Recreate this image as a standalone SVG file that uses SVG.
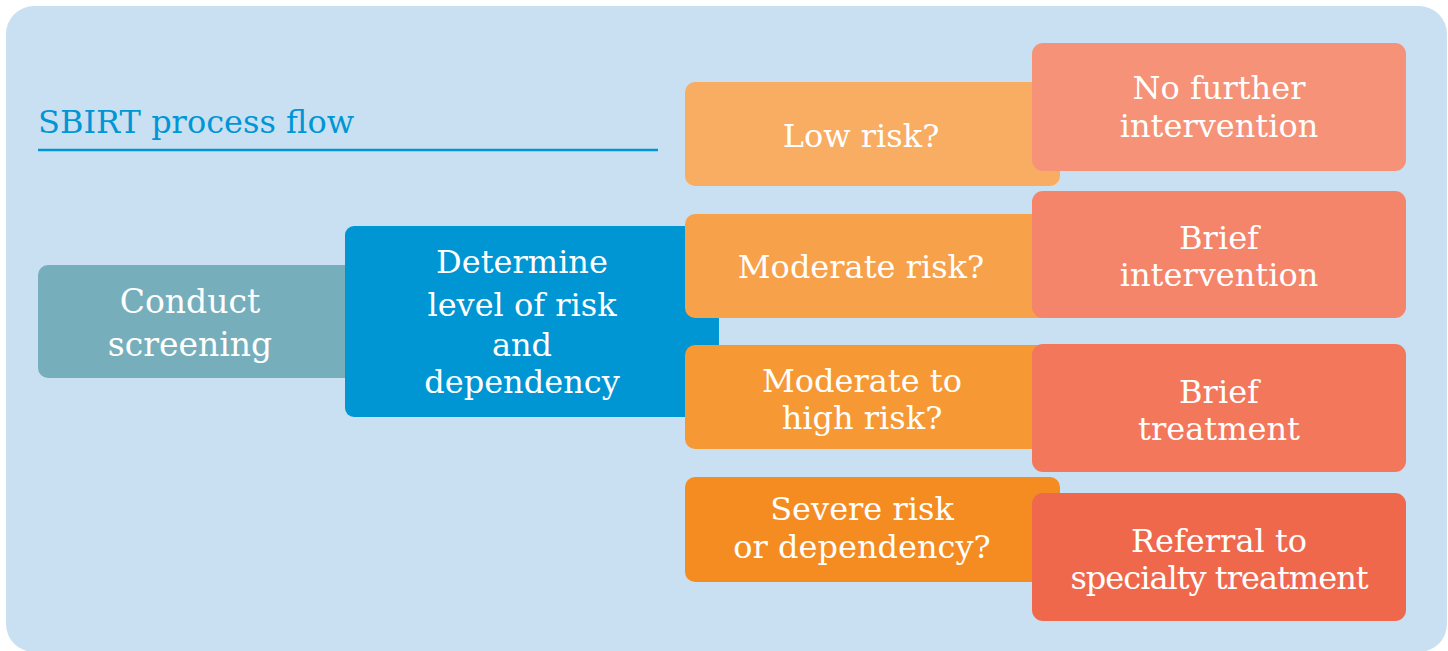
<svg xmlns="http://www.w3.org/2000/svg" width="1448" height="651" viewBox="0 0 1448 651">
<style>
  text { font-family: "DejaVu Serif", "Liberation Serif", serif; font-size: 32px; fill: #ffffff; text-anchor: middle; }
  .title { fill: #0096d6; text-anchor: start; }
  .box { stroke: none; }
</style>
<rect x="6" y="6" width="1441" height="646" rx="28" fill="#c8e0f2"/>
<g id="title">
  <text class="title" x="38" y="133">SBIRT process flow</text>
  <line x1="38" y1="150" x2="658" y2="150" stroke="#0096d6" stroke-width="2.5"/>
</g>
<g id="connectors"></g>
<g id="conduct-screening">
  <rect class="box" x="38" y="265" width="320" height="113" rx="10" fill="#76afbb"/>
  <text x="190" y="313" style="font-size:33px">Conduct</text>
  <text x="190" y="356" style="font-size:33px">screening</text>
</g>
<g id="determine-level">
  <rect class="box" x="345" y="226" width="374" height="191" rx="9" fill="#0095d3"/>
  <text x="522" y="273">Determine</text>
  <text x="522" y="316">level of risk</text>
  <text x="522" y="356">and</text>
  <text x="522" y="393">dependency</text>
</g>
<g id="low-risk">
  <rect class="box" x="685" y="82" width="375" height="104" rx="10" fill="#f8ad62"/>
  <text x="861" y="147">Low risk?</text>
</g>
<g id="moderate-risk">
  <rect class="box" x="685" y="214" width="375" height="104" rx="10" fill="#f7a24a"/>
  <text x="861" y="278">Moderate risk?</text>
</g>
<g id="moderate-high-risk">
  <rect class="box" x="685" y="345" width="375" height="104" rx="10" fill="#f69935"/>
  <text x="862" y="392">Moderate to</text>
  <text x="862" y="429">high risk?</text>
</g>
<g id="severe-risk">
  <rect class="box" x="685" y="477" width="375" height="105" rx="10" fill="#f58c22"/>
  <text x="862" y="520">Severe risk</text>
  <text x="862" y="558">or dependency?</text>
</g>
<g id="no-further-intervention">
  <rect class="box" x="1032" y="43" width="374" height="128" rx="11" fill="#f59278"/>
  <text x="1219" y="99">No further</text>
  <text x="1219" y="137">intervention</text>
</g>
<g id="brief-intervention">
  <rect class="box" x="1032" y="191" width="374" height="127" rx="11" fill="#f4846a"/>
  <text x="1219" y="249">Brief</text>
  <text x="1219" y="286">intervention</text>
</g>
<g id="brief-treatment">
  <rect class="box" x="1032" y="344" width="374" height="128" rx="11" fill="#f3775b"/>
  <text x="1219" y="403">Brief</text>
  <text x="1219" y="440">treatment</text>
</g>
<g id="referral">
  <rect class="box" x="1032" y="493" width="374" height="128" rx="11" fill="#f0684c"/>
  <text x="1219" y="552">Referral to</text>
  <text x="1219" y="589" letter-spacing="-1">specialty treatment</text>
</g>
</svg>
